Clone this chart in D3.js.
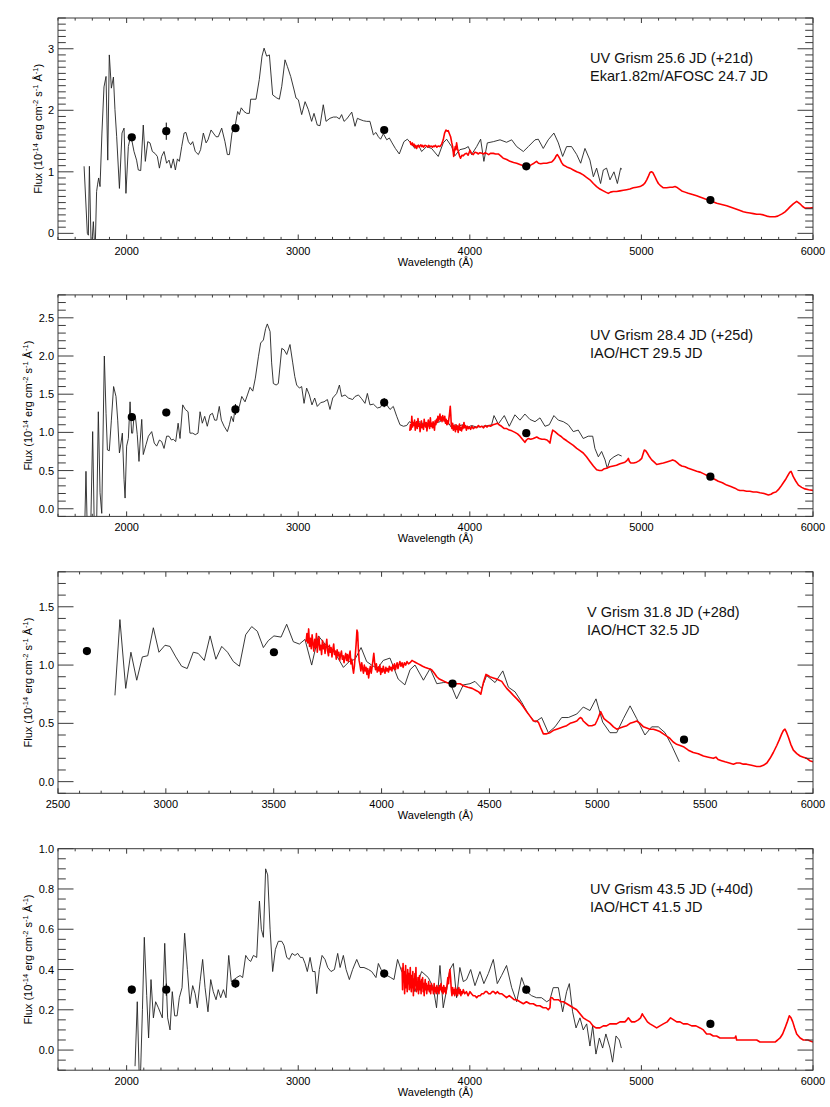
<!DOCTYPE html>
<html>
<head>
<meta charset="utf-8">
<script src="https://cdn.jsdelivr.net/npm/d3@7"></script>
<style>
  body { margin: 0; background: #fff; }
  svg  { display: block; font-family: "Liberation Sans", Arial, Helvetica, sans-serif; }
</style>
</head>
<body>
<div id="chart"></div>
<script>
/* ── data ─────────────────────────────────────────────────── */
// Swift UVOT photometry wavelengths (uvw2, uvm2, uvw1, u, b, v)
const photWave   = [2030, 2231, 2634, 3501, 4329, 5402];
const photWaveV  = [2634, 3501, 4329, 5402];

const p1Labels = ['UV Grism 25.6 JD (+21d)', 'Ekar1.82m/AFOSC 24.7 JD'];
const p2Labels = ['UV Grism 28.4 JD (+25d)', 'IAO/HCT 29.5 JD'];
const p3Labels = ['V Grism 31.8 JD (+28d)', 'IAO/HCT 32.5 JD'];
const p4Labels = ['UV Grism 43.5 JD (+40d)', 'IAO/HCT 41.5 JD'];

const p1Phot = [1.56, 1.66, 1.71, 1.68, 1.09, 0.54];
const p1Err  = [0.04, 0.14, 0.05, 0.04, 0.03, 0.03];
const p2Phot = [1.20, 1.26, 1.30, 1.39, 0.99, 0.42];
const p2Err  = [0.05, 0.05, 0.07, 0.06, 0.03, 0.03];
const p3Phot = [1.12, 1.11, 0.84, 0.36];
const p3Err  = [0.03, 0.03, 0.02, 0.02];
const p4Phot = [0.30, 0.30, 0.33, 0.38, 0.30, 0.13];
const p4Err  = [0.02, 0.03, 0.02, 0.02, 0.02, 0.02];

// grism spectra [wavelength, flux]
const p1Black = [[1752,1.09],[1771,0.0],[1777,-0.03],[1783,1.09],[1794,-0.33],[1806,0.19],[1816,-0.33],[1825,0.68],[1831,0.80],[1837,0.90],[1845,0.76],[1856,1.63],[1868,2.38],[1880,2.55],[1890,1.19],[1899,2.90],[1911,2.36],[1923,2.54],[1932,2.01],[1942,1.57],[1958,0.73],[1973,1.63],[1985,1.71],[1996,0.65],[2010,1.41],[2024,1.60],[2043,1.33],[2058,1.19],[2068,1.03],[2082,1.02],[2097,1.76],[2109,1.17],[2123,1.49],[2136,1.47],[2150,1.33],[2165,1.30],[2179,1.25],[2191,1.06],[2204,1.25],[2218,1.33],[2233,1.14],[2247,1.19],[2259,1.06],[2272,1.21],[2284,1.03],[2296,1.21],[2307,1.17],[2321,1.41],[2335,1.63],[2346,1.64],[2360,1.49],[2373,1.44],[2385,1.49],[2400,1.33],[2418,1.28],[2431,1.36],[2447,1.63],[2463,1.47],[2474,1.52],[2492,1.68],[2505,1.63],[2521,1.57],[2534,1.57],[2554,1.71],[2573,1.49],[2587,1.28],[2599,1.28],[2614,1.63],[2632,1.74],[2647,1.98],[2657,1.93],[2668,2.04],[2684,1.98],[2700,1.95],[2715,1.95],[2723,2.18],[2754,2.18],[2773,2.50],[2789,2.88],[2801,3.01],[2816,2.88],[2832,2.90],[2851,2.25],[2875,2.20],[2890,2.18],[2904,2.39],[2923,2.82],[2937,2.71],[2956,2.55],[2976,2.33],[2987,2.20],[3001,2.17],[3020,1.93],[3040,2.14],[3059,2.01],[3078,1.82],[3092,1.95],[3111,1.76],[3127,1.75],[3146,2.09],[3162,1.82],[3185,1.87],[3205,1.89],[3224,1.89],[3240,1.86],[3253,1.93],[3267,1.82],[3283,1.86],[3312,1.97],[3331,1.74],[3345,1.87],[3360,1.85],[3380,1.83],[3399,1.82],[3418,1.82],[3438,1.60],[3453,1.64],[3467,1.57],[3480,1.53],[3496,1.62],[3516,1.52],[3531,1.55],[3547,1.47],[3566,1.38],[3589,1.29],[3616,1.49],[3636,1.53],[3655,1.47],[3680,1.38],[3700,1.44],[3719,1.33],[3748,1.41],[3777,1.38],[3816,1.25],[3845,1.47],[3865,1.53],[3894,1.41],[3913,1.26],[3942,1.36],[3972,1.38],[3991,1.41],[4010,1.28],[4040,1.41],[4063,1.53],[4082,1.17],[4102,1.47],[4137,1.49],[4176,1.52],[4214,1.48],[4244,1.52],[4273,1.41],[4312,1.33],[4341,1.41],[4380,1.52],[4399,1.53],[4428,1.38],[4457,1.52],[4490,1.63],[4516,1.47],[4541,1.25],[4564,1.41],[4593,1.41],[4623,1.28],[4646,1.14],[4671,1.38],[4700,1.19],[4720,0.92],[4739,1.06],[4762,0.81],[4778,1.03],[4797,1.06],[4817,0.87],[4840,1.00],[4860,0.81],[4879,1.06],[4887,1.04]];

const p2Black = [[1755,-0.32],[1763,0.49],[1771,-0.32],[1790,-0.32],[1802,1.01],[1812,-0.32],[1825,-0.23],[1835,1.27],[1845,0.21],[1855,-0.06],[1870,2.00],[1880,1.25],[1888,0.77],[1899,0.76],[1911,1.16],[1924,1.60],[1938,1.47],[1948,1.16],[1958,0.73],[1967,0.86],[1975,0.99],[1985,0.38],[1991,0.14],[2000,0.82],[2010,0.92],[2020,1.40],[2029,0.99],[2035,0.99],[2043,1.21],[2051,1.21],[2062,0.97],[2072,0.62],[2078,0.86],[2088,1.17],[2097,0.71],[2113,0.84],[2127,0.95],[2146,1.01],[2161,0.86],[2175,0.82],[2191,0.90],[2204,0.88],[2218,0.79],[2233,0.95],[2247,0.95],[2261,0.90],[2272,0.91],[2286,0.88],[2300,1.12],[2311,0.92],[2327,1.36],[2342,1.30],[2358,1.27],[2369,0.99],[2385,0.99],[2400,0.97],[2416,0.99],[2428,1.27],[2441,1.12],[2455,1.21],[2470,1.08],[2486,1.23],[2500,1.25],[2513,1.16],[2525,1.16],[2540,1.34],[2552,1.16],[2568,1.08],[2587,1.01],[2599,1.10],[2610,1.21],[2622,1.14],[2634,1.36],[2645,1.27],[2657,1.34],[2671,1.47],[2690,1.40],[2704,1.49],[2719,1.59],[2735,1.54],[2750,1.71],[2768,1.99],[2781,2.17],[2797,2.21],[2810,2.36],[2820,2.42],[2836,2.32],[2845,1.91],[2855,1.64],[2871,1.62],[2884,1.64],[2904,2.10],[2918,2.08],[2933,2.02],[2952,2.15],[2968,1.91],[2980,1.73],[2991,1.62],[3007,1.58],[3020,1.60],[3034,1.38],[3049,1.58],[3065,1.49],[3080,1.36],[3096,1.45],[3111,1.34],[3131,1.39],[3150,1.40],[3170,1.43],[3185,1.30],[3201,1.45],[3224,1.51],[3240,1.62],[3253,1.47],[3273,1.49],[3292,1.45],[3317,1.43],[3331,1.47],[3351,1.49],[3370,1.44],[3389,1.38],[3403,1.51],[3418,1.36],[3438,1.37],[3461,1.32],[3480,1.33],[3500,1.43],[3516,1.36],[3535,1.30],[3554,1.34],[3574,1.21],[3593,1.10],[3613,1.08],[3632,1.09],[3648,1.14],[3680,1.10],[3709,1.14],[3738,1.10],[3768,1.08],[3797,1.12],[3826,1.14],[3845,1.18],[3865,1.16],[3894,1.06],[3913,1.10],[3933,1.08],[3957,1.10],[3981,1.06],[4010,1.09],[4040,1.07],[4078,1.08],[4110,1.09],[4127,1.10],[4141,1.22],[4166,1.11],[4185,1.17],[4201,1.22],[4230,1.08],[4263,1.23],[4292,1.16],[4321,1.24],[4350,1.17],[4380,1.14],[4409,1.19],[4438,1.08],[4463,1.10],[4490,1.22],[4516,1.16],[4545,1.14],[4574,1.10],[4603,1.01],[4632,1.03],[4661,0.92],[4690,0.95],[4716,0.95],[4729,0.79],[4749,0.68],[4768,0.75],[4788,0.64],[4801,0.53],[4817,0.64],[4840,0.68],[4865,0.71],[4885,0.69]];

const p3Black = [[2764,0.74],[2787,1.39],[2814,0.80],[2838,1.11],[2865,0.87],[2891,1.07],[2916,1.08],[2942,1.32],[2968,1.11],[2996,1.17],[3019,1.16],[3046,1.07],[3073,0.99],[3099,0.97],[3127,1.11],[3150,1.10],[3178,1.04],[3205,1.25],[3232,1.05],[3259,1.16],[3286,1.11],[3313,1.03],[3341,0.99],[3370,1.26],[3398,1.33],[3424,1.29],[3452,1.15],[3475,1.21],[3501,1.25],[3534,1.24],[3560,1.35],[3591,1.20],[3619,1.18],[3645,1.22],[3676,1.00],[3707,1.25],[3738,1.18],[3769,1.14],[3792,1.08],[3823,0.98],[3850,1.03],[3877,1.05],[3905,1.15],[3931,1.03],[3954,1.00],[3980,0.97],[4008,1.04],[4039,1.06],[4077,0.88],[4108,0.83],[4132,0.96],[4155,1.00],[4194,0.87],[4225,0.97],[4256,0.84],[4287,0.85],[4317,0.85],[4348,0.71],[4379,0.83],[4410,0.84],[4433,0.86],[4464,0.80],[4487,0.91],[4526,0.85],[4562,0.95],[4588,0.81],[4619,0.77],[4650,0.68],[4680,0.58],[4711,0.51],[4742,0.55],[4773,0.42],[4804,0.47],[4835,0.55],[4866,0.55],[4905,0.58],[4935,0.64],[4966,0.61],[4994,0.71],[5025,0.51],[5059,0.42],[5090,0.42],[5121,0.54],[5152,0.65],[5183,0.54],[5221,0.40],[5252,0.47],[5283,0.47],[5314,0.42],[5345,0.31],[5380,0.17]];

const p4Black = [[2049,-0.08],[2062,0.24],[2074,-0.15],[2082,-0.09],[2092,0.20],[2103,0.56],[2117,0.27],[2128,0.06],[2142,0.35],[2156,0.16],[2169,0.24],[2185,0.21],[2208,0.16],[2222,0.53],[2239,0.16],[2253,0.10],[2266,0.29],[2280,0.17],[2294,0.17],[2307,0.26],[2323,0.31],[2338,0.58],[2354,0.40],[2369,0.23],[2385,0.32],[2399,0.28],[2412,0.21],[2428,0.34],[2443,0.45],[2457,0.31],[2474,0.19],[2490,0.35],[2505,0.29],[2521,0.25],[2534,0.30],[2548,0.26],[2564,0.30],[2579,0.26],[2595,0.47],[2610,0.34],[2626,0.35],[2641,0.36],[2661,0.37],[2676,0.36],[2694,0.47],[2709,0.45],[2723,0.44],[2739,0.47],[2758,0.46],[2774,0.74],[2785,0.60],[2797,0.56],[2810,0.90],[2822,0.87],[2836,0.60],[2851,0.39],[2867,0.50],[2884,0.54],[2904,0.54],[2917,0.52],[2933,0.46],[2948,0.45],[2964,0.48],[2981,0.47],[2997,0.48],[3013,0.46],[3026,0.46],[3040,0.43],[3053,0.39],[3069,0.46],[3084,0.39],[3098,0.39],[3108,0.28],[3123,0.40],[3139,0.47],[3156,0.45],[3172,0.41],[3191,0.39],[3211,0.40],[3230,0.48],[3244,0.41],[3263,0.47],[3279,0.40],[3298,0.35],[3317,0.40],[3341,0.45],[3360,0.41],[3383,0.41],[3409,0.40],[3428,0.39],[3453,0.36],[3467,0.43],[3483,0.40],[3502,0.38],[3519,0.37],[3539,0.36],[3558,0.35],[3579,0.45],[3603,0.39],[3630,0.36],[3651,0.37],[3680,0.29],[3719,0.39],[3758,0.36],[3787,0.31],[3806,0.21],[3826,0.42],[3845,0.21],[3865,0.30],[3884,0.40],[3904,0.43],[3923,0.26],[3942,0.41],[3962,0.34],[3981,0.35],[4005,0.40],[4030,0.32],[4059,0.39],[4082,0.33],[4108,0.38],[4137,0.45],[4160,0.33],[4185,0.37],[4214,0.42],[4244,0.31],[4273,0.24],[4302,0.36],[4331,0.29],[4360,0.27],[4389,0.26],[4418,0.26],[4448,0.24],[4467,0.25],[4486,0.31],[4516,0.31],[4541,0.19],[4564,0.29],[4580,0.33],[4599,0.19],[4619,0.11],[4642,0.16],[4661,0.10],[4681,0.13],[4700,0.02],[4716,0.12],[4735,-0.02],[4755,0.06],[4774,0.01],[4793,0.08],[4817,0.01],[4832,-0.06],[4852,0.07],[4871,0.05],[4883,0.01]];

// ground-based optical spectra [wavelength, flux]
const p1Red = [[3652,1.50],[3656,1.45],[3660,1.44],[3665,1.47],[3670,1.43],[3675,1.45],[3680,1.40],[3685,1.43],[3690,1.38],[3695,1.42],[3700,1.43],[3705,1.40],[3709,1.42],[3715,1.44],[3720,1.41],[3725,1.43],[3730,1.40],[3738,1.43],[3748,1.42],[3755,1.40],[3760,1.43],[3768,1.41],[3775,1.42],[3782,1.40],[3787,1.42],[3794,1.41],[3800,1.43],[3808,1.40],[3815,1.42],[3826,1.41],[3836,1.45],[3845,1.52],[3853,1.63],[3861,1.68],[3868,1.66],[3874,1.67],[3881,1.62],[3888,1.57],[3895,1.47],[3900,1.41],[3906,1.25],[3911,1.35],[3915,1.41],[3919,1.36],[3923,1.47],[3928,1.38],[3933,1.33],[3940,1.26],[3946,1.22],[3954,1.27],[3962,1.26],[3971,1.29],[3981,1.30],[3990,1.27],[4001,1.35],[4010,1.30],[4020,1.28],[4030,1.32],[4040,1.31],[4050,1.29],[4059,1.31],[4070,1.30],[4080,1.29],[4090,1.31],[4098,1.30],[4110,1.28],[4120,1.30],[4137,1.30],[4150,1.29],[4166,1.29],[4180,1.26],[4195,1.22],[4215,1.20],[4234,1.17],[4255,1.15],[4273,1.14],[4292,1.12],[4312,1.10],[4330,1.09],[4350,1.10],[4362,1.12],[4374,1.14],[4389,1.17],[4400,1.14],[4413,1.13],[4430,1.14],[4448,1.14],[4462,1.15],[4477,1.16],[4488,1.19],[4496,1.22],[4503,1.26],[4510,1.28],[4517,1.25],[4525,1.21],[4535,1.15],[4545,1.11],[4565,1.08],[4584,1.06],[4603,1.03],[4623,1.00],[4642,0.98],[4661,0.95],[4680,0.91],[4700,0.87],[4720,0.81],[4739,0.76],[4758,0.72],[4778,0.69],[4792,0.67],[4807,0.65],[4820,0.67],[4836,0.68],[4855,0.68],[4875,0.69],[4895,0.70],[4914,0.71],[4933,0.72],[4953,0.74],[4972,0.75],[4992,0.76],[5011,0.79],[5021,0.82],[5031,0.87],[5041,0.93],[5050,0.99],[5058,1.00],[5066,0.99],[5072,0.96],[5079,0.92],[5089,0.86],[5099,0.81],[5113,0.77],[5128,0.74],[5147,0.74],[5167,0.75],[5182,0.75],[5196,0.76],[5205,0.75],[5215,0.73],[5235,0.69],[5254,0.67],[5273,0.65],[5298,0.63],[5322,0.61],[5341,0.59],[5361,0.57],[5380,0.55],[5400,0.53],[5420,0.51],[5439,0.49],[5468,0.47],[5497,0.45],[5526,0.42],[5555,0.39],[5575,0.37],[5594,0.35],[5613,0.34],[5633,0.33],[5652,0.32],[5672,0.31],[5691,0.31],[5711,0.30],[5730,0.28],[5749,0.27],[5765,0.27],[5779,0.27],[5794,0.28],[5808,0.30],[5822,0.32],[5837,0.35],[5852,0.39],[5866,0.43],[5885,0.48],[5905,0.52],[5915,0.50],[5924,0.48],[5938,0.44],[5953,0.41],[5968,0.41],[5983,0.41],[6000,0.42]];

const p2Red = [[3650,1.02],[3654,1.10],[3658,1.04],[3662,1.21],[3666,1.07],[3670,1.13],[3674,1.09],[3678,1.16],[3682,1.03],[3686,1.11],[3690,1.14],[3694,1.05],[3698,1.18],[3702,1.08],[3706,1.12],[3710,1.01],[3714,1.09],[3718,1.15],[3722,1.06],[3726,1.10],[3730,1.04],[3734,1.17],[3738,1.11],[3742,1.07],[3746,1.13],[3750,1.02],[3754,1.09],[3758,1.16],[3762,1.10],[3766,1.05],[3770,1.19],[3774,1.08],[3778,1.12],[3782,1.06],[3786,1.14],[3790,1.09],[3794,1.03],[3798,1.15],[3802,1.10],[3806,1.17],[3810,1.13],[3814,1.21],[3818,1.15],[3822,1.19],[3826,1.24],[3830,1.16],[3834,1.20],[3838,1.14],[3842,1.22],[3846,1.18],[3850,1.15],[3854,1.21],[3858,1.12],[3862,1.17],[3866,1.10],[3870,1.15],[3874,1.11],[3878,1.18],[3882,1.25],[3886,1.34],[3889,1.24],[3892,1.10],[3896,1.05],[3900,1.12],[3904,1.03],[3908,1.09],[3912,1.06],[3916,1.01],[3920,1.10],[3924,1.04],[3928,1.08],[3932,1.00],[3936,1.07],[3940,1.11],[3944,1.03],[3948,1.06],[3952,1.02],[3956,1.09],[3960,1.05],[3966,1.13],[3970,1.06],[3975,1.09],[3980,1.03],[3986,1.08],[3992,1.05],[3998,1.07],[4005,1.04],[4012,1.08],[4020,1.05],[4030,1.07],[4040,1.06],[4050,1.09],[4060,1.07],[4070,1.08],[4080,1.06],[4090,1.09],[4100,1.07],[4110,1.09],[4120,1.08],[4135,1.10],[4150,1.11],[4160,1.12],[4170,1.10],[4185,1.08],[4201,1.05],[4215,1.05],[4230,1.03],[4245,1.02],[4263,1.00],[4278,0.98],[4292,0.95],[4310,0.90],[4321,0.87],[4330,0.90],[4340,0.92],[4355,0.91],[4370,0.92],[4390,0.94],[4405,0.92],[4420,0.91],[4435,0.91],[4450,0.90],[4460,0.88],[4467,0.86],[4475,0.96],[4483,1.03],[4496,1.01],[4516,0.97],[4530,0.95],[4545,0.92],[4565,0.89],[4584,0.86],[4603,0.83],[4623,0.79],[4642,0.76],[4661,0.73],[4680,0.68],[4700,0.62],[4720,0.56],[4739,0.51],[4755,0.50],[4768,0.50],[4780,0.52],[4797,0.53],[4816,0.55],[4836,0.56],[4855,0.57],[4875,0.59],[4890,0.60],[4904,0.61],[4915,0.63],[4924,0.66],[4930,0.62],[4938,0.60],[4955,0.60],[4972,0.61],[4988,0.63],[5002,0.66],[5010,0.72],[5017,0.77],[5025,0.76],[5034,0.73],[5047,0.68],[5060,0.64],[5075,0.61],[5089,0.58],[5108,0.59],[5128,0.60],[5143,0.61],[5157,0.62],[5170,0.63],[5182,0.64],[5194,0.63],[5205,0.61],[5220,0.58],[5235,0.56],[5254,0.55],[5273,0.53],[5298,0.51],[5322,0.49],[5341,0.48],[5361,0.46],[5380,0.44],[5400,0.41],[5424,0.39],[5448,0.36],[5472,0.34],[5497,0.31],[5521,0.29],[5545,0.27],[5560,0.25],[5574,0.24],[5594,0.24],[5613,0.23],[5632,0.23],[5652,0.22],[5672,0.22],[5691,0.21],[5715,0.20],[5740,0.18],[5755,0.19],[5769,0.21],[5784,0.22],[5798,0.25],[5812,0.29],[5827,0.34],[5842,0.39],[5857,0.45],[5865,0.48],[5872,0.49],[5878,0.46],[5885,0.42],[5900,0.36],[5915,0.31],[5934,0.28],[5953,0.26],[5975,0.25],[6000,0.24]];

const p3Red = [[3650,1.20],[3654,1.27],[3658,1.19],[3662,1.31],[3666,1.16],[3670,1.23],[3674,1.14],[3678,1.26],[3682,1.18],[3686,1.12],[3690,1.22],[3694,1.15],[3698,1.27],[3702,1.11],[3706,1.19],[3710,1.24],[3714,1.13],[3718,1.17],[3722,1.09],[3726,1.21],[3730,1.14],[3734,1.18],[3738,1.10],[3742,1.16],[3746,1.22],[3750,1.12],[3754,1.08],[3758,1.17],[3762,1.11],[3766,1.15],[3770,1.07],[3774,1.13],[3778,1.18],[3782,1.09],[3786,1.12],[3790,1.05],[3794,1.13],[3798,1.08],[3802,1.11],[3806,1.04],[3810,1.09],[3814,1.12],[3818,1.05],[3822,1.08],[3826,1.02],[3830,1.07],[3834,1.10],[3838,1.04],[3842,1.09],[3846,1.03],[3850,1.08],[3854,1.12],[3858,1.01],[3862,1.05],[3866,0.98],[3870,0.93],[3874,0.99],[3878,1.08],[3882,1.18],[3886,1.30],[3889,1.28],[3892,1.15],[3896,1.04],[3900,1.00],[3904,0.95],[3908,1.02],[3912,0.97],[3916,0.93],[3920,1.00],[3924,0.95],[3928,0.98],[3932,0.92],[3936,0.97],[3940,0.89],[3944,0.95],[3948,0.99],[3952,0.93],[3956,0.98],[3960,1.04],[3964,1.10],[3968,1.02],[3972,0.96],[3976,1.01],[3980,0.94],[3984,0.98],[3988,0.95],[3992,1.00],[3996,0.92],[4000,0.97],[4004,0.94],[4008,0.99],[4012,0.95],[4016,0.93],[4020,0.98],[4024,0.95],[4028,0.97],[4032,0.94],[4036,0.99],[4040,0.96],[4044,0.98],[4048,0.95],[4052,1.00],[4056,0.97],[4060,1.01],[4064,0.96],[4068,0.99],[4072,1.02],[4076,0.97],[4080,1.00],[4085,1.03],[4090,0.99],[4095,1.02],[4100,0.98],[4106,1.02],[4112,1.00],[4118,1.03],[4125,1.01],[4132,1.02],[4141,1.04],[4150,1.03],[4160,1.02],[4170,1.01],[4180,1.00],[4190,0.99],[4203,0.98],[4217,0.97],[4232,0.96],[4245,0.93],[4256,0.90],[4268,0.88],[4280,0.87],[4291,0.86],[4302,0.85],[4316,0.84],[4330,0.83],[4347,0.84],[4364,0.84],[4382,0.82],[4400,0.81],[4420,0.80],[4440,0.78],[4450,0.77],[4460,0.75],[4466,0.80],[4472,0.85],[4484,0.92],[4493,0.91],[4502,0.90],[4518,0.89],[4533,0.88],[4545,0.87],[4557,0.86],[4568,0.83],[4580,0.80],[4596,0.77],[4611,0.74],[4627,0.71],[4642,0.68],[4658,0.64],[4673,0.60],[4689,0.56],[4704,0.52],[4716,0.52],[4727,0.51],[4738,0.46],[4750,0.41],[4765,0.41],[4781,0.42],[4797,0.44],[4812,0.45],[4828,0.46],[4843,0.47],[4858,0.48],[4874,0.50],[4890,0.51],[4905,0.52],[4915,0.54],[4923,0.55],[4929,0.54],[4935,0.52],[4947,0.50],[4959,0.48],[4975,0.48],[4990,0.49],[4998,0.52],[5005,0.55],[5011,0.58],[5016,0.60],[5023,0.57],[5031,0.54],[5045,0.52],[5059,0.50],[5075,0.47],[5090,0.45],[5105,0.46],[5121,0.47],[5137,0.48],[5152,0.50],[5168,0.51],[5183,0.52],[5198,0.50],[5214,0.47],[5229,0.46],[5244,0.45],[5260,0.45],[5275,0.44],[5290,0.43],[5306,0.41],[5322,0.39],[5337,0.37],[5352,0.34],[5368,0.32],[5384,0.31],[5399,0.30],[5422,0.27],[5445,0.25],[5468,0.24],[5492,0.22],[5515,0.21],[5538,0.20],[5550,0.21],[5560,0.19],[5576,0.18],[5592,0.17],[5612,0.16],[5631,0.15],[5646,0.16],[5661,0.16],[5677,0.15],[5692,0.15],[5715,0.14],[5739,0.13],[5755,0.13],[5770,0.14],[5786,0.16],[5801,0.20],[5816,0.25],[5832,0.31],[5844,0.36],[5855,0.41],[5863,0.44],[5870,0.45],[5878,0.42],[5886,0.38],[5897,0.32],[5909,0.27],[5925,0.24],[5940,0.22],[5955,0.21],[5971,0.20],[5985,0.18],[6000,0.17]];

const p4Red = [[3605,0.41],[3608,0.30],[3611,0.43],[3614,0.34],[3617,0.39],[3620,0.28],[3623,0.36],[3626,0.42],[3629,0.31],[3632,0.37],[3635,0.29],[3638,0.40],[3641,0.33],[3644,0.38],[3647,0.30],[3650,0.35],[3653,0.41],[3656,0.32],[3659,0.29],[3662,0.37],[3665,0.31],[3668,0.39],[3671,0.27],[3674,0.35],[3677,0.30],[3680,0.38],[3683,0.32],[3686,0.41],[3689,0.29],[3692,0.34],[3695,0.30],[3698,0.36],[3701,0.28],[3704,0.33],[3707,0.37],[3710,0.30],[3713,0.34],[3716,0.28],[3719,0.35],[3722,0.31],[3725,0.36],[3728,0.29],[3731,0.33],[3734,0.27],[3737,0.32],[3740,0.35],[3743,0.30],[3746,0.33],[3749,0.28],[3752,0.32],[3756,0.30],[3760,0.34],[3764,0.29],[3768,0.32],[3772,0.28],[3776,0.33],[3780,0.30],[3784,0.31],[3788,0.28],[3792,0.33],[3796,0.29],[3800,0.31],[3804,0.28],[3808,0.32],[3812,0.29],[3816,0.31],[3820,0.28],[3824,0.32],[3828,0.30],[3832,0.33],[3836,0.29],[3840,0.31],[3844,0.28],[3848,0.32],[3852,0.29],[3856,0.31],[3860,0.28],[3864,0.30],[3868,0.33],[3872,0.36],[3876,0.33],[3880,0.38],[3884,0.40],[3888,0.36],[3892,0.30],[3896,0.27],[3900,0.31],[3904,0.28],[3908,0.30],[3912,0.27],[3916,0.31],[3920,0.28],[3924,0.30],[3928,0.27],[3932,0.29],[3936,0.31],[3940,0.28],[3944,0.30],[3948,0.27],[3952,0.29],[3956,0.28],[3962,0.30],[3970,0.28],[3980,0.29],[3990,0.27],[4001,0.29],[4010,0.28],[4020,0.27],[4030,0.27],[4040,0.26],[4050,0.27],[4060,0.27],[4070,0.28],[4080,0.28],[4090,0.29],[4100,0.29],[4110,0.28],[4120,0.28],[4130,0.29],[4140,0.29],[4150,0.28],[4160,0.29],[4172,0.28],[4185,0.28],[4200,0.27],[4214,0.26],[4230,0.27],[4244,0.26],[4258,0.25],[4273,0.25],[4292,0.24],[4312,0.23],[4330,0.24],[4350,0.23],[4370,0.23],[4389,0.22],[4408,0.22],[4428,0.21],[4445,0.21],[4457,0.20],[4467,0.21],[4471,0.26],[4480,0.26],[4490,0.25],[4503,0.25],[4516,0.25],[4530,0.24],[4545,0.24],[4565,0.23],[4584,0.22],[4603,0.21],[4623,0.20],[4642,0.18],[4661,0.16],[4680,0.15],[4700,0.14],[4718,0.12],[4735,0.11],[4747,0.11],[4758,0.11],[4778,0.12],[4797,0.12],[4816,0.13],[4836,0.13],[4855,0.13],[4875,0.14],[4890,0.14],[4904,0.14],[4915,0.15],[4924,0.16],[4933,0.15],[4943,0.14],[4962,0.14],[4982,0.15],[4995,0.16],[5005,0.18],[5012,0.17],[5020,0.16],[5035,0.14],[5050,0.13],[5070,0.12],[5089,0.11],[5108,0.12],[5128,0.13],[5150,0.14],[5170,0.16],[5188,0.15],[5206,0.14],[5225,0.14],[5244,0.13],[5268,0.13],[5293,0.12],[5318,0.12],[5342,0.11],[5361,0.10],[5380,0.08],[5400,0.08],[5419,0.07],[5438,0.07],[5458,0.06],[5483,0.06],[5507,0.06],[5526,0.06],[5545,0.06],[5550,0.07],[5555,0.05],[5575,0.05],[5594,0.05],[5623,0.05],[5652,0.05],[5672,0.05],[5691,0.04],[5710,0.04],[5730,0.04],[5755,0.04],[5779,0.04],[5794,0.05],[5808,0.06],[5823,0.08],[5837,0.11],[5850,0.14],[5862,0.17],[5872,0.16],[5882,0.14],[5893,0.11],[5905,0.08],[5925,0.06],[5944,0.05],[5970,0.05],[6000,0.04]];

/* ── panel definitions ────────────────────────────────────── */
const panels = [
  { xDom: [1600, 6000], xMajor: 1000, xMinor: 100, yDom: [-0.1, 3.5], yMajor: 1,   yMinor: 0.1,  yFmt: d3.format('d'),   titleX: 42,
    black: p1Black, red: p1Red, photW: photWave,  photF: p1Phot, photE: p1Err, labels: p1Labels },
  { xDom: [1600, 6000], xMajor: 1000, xMinor: 100, yDom: [-0.1, 2.8], yMajor: 0.5, yMinor: 0.1,  yFmt: d3.format('.1f'), titleX: 32,
    black: p2Black, red: p2Red, photW: photWave,  photF: p2Phot, photE: p2Err, labels: p2Labels },
  { xDom: [2500, 6000], xMajor: 500,  xMinor: 100, yDom: [-0.1, 1.8], yMajor: 0.5, yMinor: 0.1,  yFmt: d3.format('.1f'), titleX: 32,
    black: p3Black, red: p3Red, photW: photWaveV, photF: p3Phot, photE: p3Err, labels: p3Labels },
  { xDom: [1600, 6000], xMajor: 1000, xMinor: 100, yDom: [-0.1, 1.0], yMajor: 0.2, yMinor: 0.05, yFmt: d3.format('.1f'), titleX: 32,
    black: p4Black, red: p4Red, photW: photWave,  photF: p4Phot, photE: p4Err, labels: p4Labels },
];

// ── layout ───────────────────────────────────────────────────
const W = 830, H = 1107;
const ML = 58, MR = 17;
const PH = 221.5, TOP0 = 18, STEP = 276.9;
const AXIS = '#3a3a3a';

const svg = d3.select('#chart').append('svg').attr('width', W).attr('height', H);

function steps(lo, hi, step) {
  const out = [];
  for (let v = Math.ceil(lo / step - 1e-6) * step; v <= hi + 1e-6; v += step) {
    out.push(Math.round(v * 1e4) / 1e4);
  }
  return out;
}
const isMult = (v, m) => Math.abs(v / m - Math.round(v / m)) < 1e-6;

panels.forEach((p, i) => {
  const top = TOP0 + i * STEP;
  const bot = top + PH;
  const x = d3.scaleLinear().domain(p.xDom).range([ML, W - MR]);
  const y = d3.scaleLinear().domain(p.yDom).range([bot, top]);
  const g = svg.append('g');

  g.append('clipPath').attr('id', `clip${i}`)
    .append('rect').attr('x', ML).attr('y', top).attr('width', W - MR - ML).attr('height', PH);

  // spectra
  const line = d3.line().x(d => x(d[0])).y(d => y(d[1]));
  const data = g.append('g').attr('clip-path', `url(#clip${i})`);
  data.append('path').datum(p.black).attr('d', line)
    .attr('fill', 'none').attr('stroke', '#222').attr('stroke-width', 0.9)
    .attr('stroke-linejoin', 'round');
  data.append('path').datum(p.red).attr('d', line)
    .attr('fill', 'none').attr('stroke', '#ff0000').attr('stroke-width', 1.6)
    .attr('stroke-linejoin', 'round');

  // photometry
  p.photW.forEach((w, k) => {
    data.append('line')
      .attr('x1', x(w)).attr('x2', x(w))
      .attr('y1', y(p.photF[k] - p.photE[k])).attr('y2', y(p.photF[k] + p.photE[k]))
      .attr('stroke', '#000').attr('stroke-width', 1);
    data.append('circle').attr('cx', x(w)).attr('cy', y(p.photF[k]))
      .attr('r', 4.1).attr('fill', '#000');
  });

  // frame
  g.append('rect').attr('x', ML).attr('y', top).attr('width', W - MR - ML).attr('height', PH)
    .attr('fill', 'none').attr('stroke', AXIS).attr('stroke-width', 1);

  // x ticks (bottom and top)
  steps(p.xDom[0], p.xDom[1], p.xMinor).forEach(v => {
    const major = isMult(v, p.xMajor);
    const len = major ? 5 : 2.6;
    const xx = x(v);
    g.append('line').attr('x1', xx).attr('x2', xx).attr('y1', bot).attr('y2', bot - len)
      .attr('stroke', AXIS);
    g.append('line').attr('x1', xx).attr('x2', xx).attr('y1', top).attr('y2', top + len)
      .attr('stroke', AXIS);
    if (major) {
      g.append('text').attr('x', xx).attr('y', bot + 15)
        .attr('text-anchor', 'middle').attr('font-size', 11).text(v);
    }
  });

  // y ticks (left and right)
  steps(p.yDom[0], p.yDom[1], p.yMinor).forEach(v => {
    const major = isMult(v, p.yMajor);
    const len = major ? 15.5 : 7.8;
    const yy = y(v);
    g.append('line').attr('x1', ML).attr('x2', ML + len).attr('y1', yy).attr('y2', yy)
      .attr('stroke', AXIS);
    g.append('line').attr('x1', W - MR).attr('x2', W - MR - len).attr('y1', yy).attr('y2', yy)
      .attr('stroke', AXIS);
    if (major) {
      g.append('text').attr('x', ML - 4).attr('y', yy + 4)
        .attr('text-anchor', 'end').attr('font-size', 11).text(p.yFmt(v));
    }
  });

  // axis titles
  g.append('text').attr('x', (ML + W - MR) / 2).attr('y', bot + 26)
    .attr('text-anchor', 'middle').attr('font-size', 11).text('Wavelength (Å)');

  const yt = g.append('text')
    .attr('transform', `translate(${p.titleX},${(top + bot) / 2}) rotate(-90)`)
    .attr('text-anchor', 'middle').attr('font-size', 11);
  const parts = [['Flux (10', false], ['-14', true], [' erg cm', false], ['-2', true],
                 [' s', false], ['-1', true], [' Å', false], ['-1', true], [')', false]];
  let up = false;
  parts.forEach(([t, sup]) => {
    const ts = yt.append('tspan').text(t);
    if (sup && !up)  { ts.attr('dy', -4.5).attr('font-size', 7.5); up = true; }
    else if (sup)    { ts.attr('font-size', 7.5); }
    else if (up)     { ts.attr('dy', 4.5); up = false; }
  });

  // annotation
  p.labels.forEach((t, k) => {
    g.append('text').attr('x', i === 2 ? 587 : 590).attr('y', top + 45 + k * 18)
      .attr('font-size', 14.5).attr('fill', '#111').text(t);
  });
});
</script>
</body>
</html>
